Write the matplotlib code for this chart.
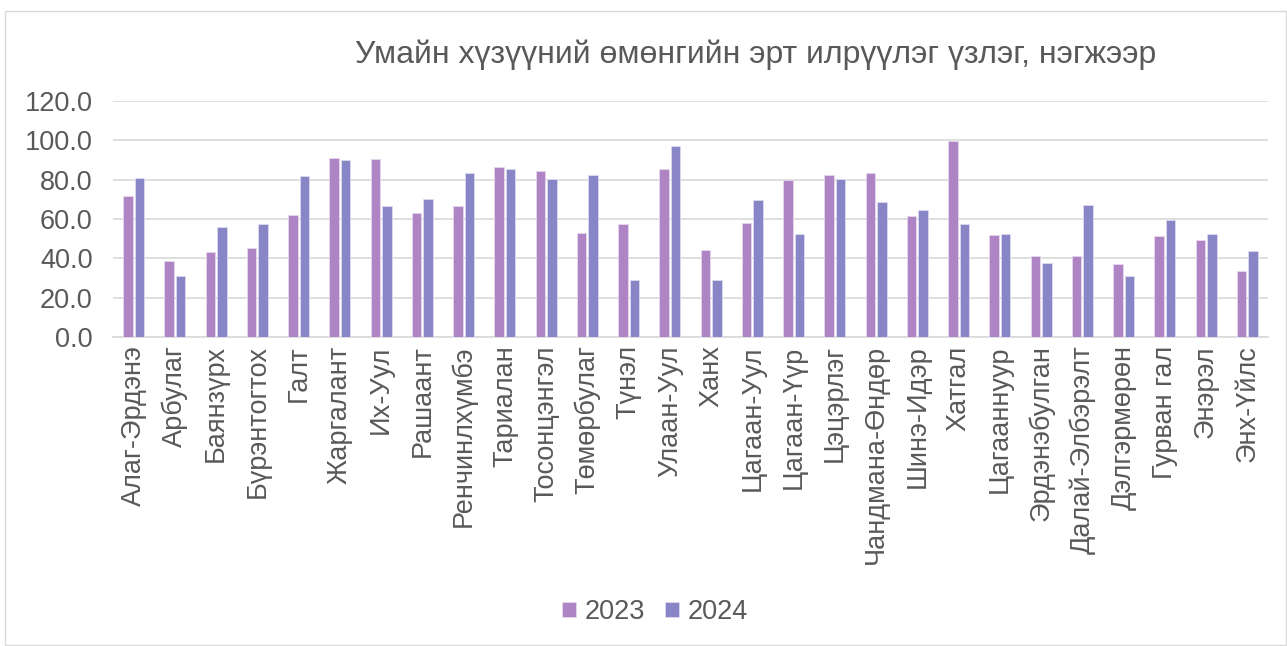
import matplotlib
matplotlib.use("Agg")
import matplotlib.pyplot as plt
import numpy as np
from matplotlib.patches import Rectangle

plt.rcParams['font.family'] = ['Liberation Sans', 'DejaVu Sans']

categories = ["Алаг-Эрдэнэ", "Арбулаг", "Баянзүрх", "Бүрэнтогтох", "Галт", "Жаргалант",
              "Их-Уул", "Рашаант", "Ренчинлхүмбэ", "Тариалан", "Тосонцэнгэл", "Төмөрбулаг",
              "Түнэл", "Улаан-Уул", "Ханх", "Цагаан-Уул", "Цагаан-Үүр", "Цэцэрлэг",
              "Чандмана-Өндөр", "Шинэ-Идэр", "Хатгал", "Цагааннуур", "Эрдэнэбулган",
              "Далай-Элбэрэлт", "Дэлгэрмөрөн", "Гурван гал", "Энэрэл", "Энх-Үйлс"]
v2023 = [71.9, 38.4, 43.2, 45.2, 61.9, 91.1, 90.4, 62.9, 66.5, 86.5, 84.5, 52.9,
         57.5, 85.3, 44.2, 57.8, 79.6, 82.3, 83.5, 61.5, 99.8, 51.8, 41.3, 41.1,
         37.1, 51.2, 49.5, 33.8]
v2024 = [81.1, 31.1, 55.9, 57.6, 81.8, 89.9, 66.6, 70.4, 83.3, 85.3, 80.2, 82.4,
         29.2, 97.2, 28.9, 69.7, 52.2, 80.1, 68.8, 64.4, 57.3, 52.4, 37.7, 67.1,
         31.1, 59.7, 52.4, 43.5]
yticks = [0, 20, 40, 60, 80, 100, 120]
title = "Умайн хүзүүний өмөнгийн эрт илрүүлэг үзлэг, нэгжээр"

c23 = "#AE84C4"
c24 = "#8986C8"
txt = "#595959"

fig = plt.figure(figsize=(12.87, 6.46), dpi=100)
fig.patches.append(Rectangle((5/1287, 0.002), 1 - 5/1287 - 0.001, 1 - 11/646 - 0.002,
                             transform=fig.transFigure, fill=False, edgecolor="#D9D9D9", lw=1))
ax = fig.add_axes([113/1287, 1 - 337/646, (1268 - 113)/1287, (337 - 101)/646])

x = np.arange(len(categories))
w = 0.235
ax.bar(x - 0.14, v2023, w, color=c23, edgecolor="#E6D8EE", linewidth=0.6, label="2023", zorder=3)
ax.bar(x + 0.14, v2024, w, color=c24, edgecolor="#DCDBF0", linewidth=0.6, label="2024", zorder=3)

ax.set_xlim(-0.5, len(categories) - 0.5)
ax.set_ylim(0, 120)
ax.set_yticks(yticks)
ax.set_yticklabels([f"{t:.1f}" for t in yticks], fontsize=19.5, color=txt)
ax.set_xticks(x)
ax.set_xticklabels(categories, rotation=90, fontsize=19.5, color=txt)
ax.tick_params(axis='x', length=0, pad=6)
ax.tick_params(axis='y', length=0, pad=14.5)
ax.grid(axis='y', color="#D9D9D9", lw=1.2, zorder=0)
for s in ["top", "right", "left"]:
    ax.spines[s].set_visible(False)
ax.spines["bottom"].set_color("#D9D9D9")
ax.spines["bottom"].set_linewidth(1.2)

fig.text(756/1287, 1 - 55/646, title, ha="center", va="center", fontsize=23, color=txt)

leg = fig.legend(loc="center", bbox_to_anchor=(655/1287, 1 - 612/646), ncol=2, frameon=False,
                 fontsize=19.5, handlelength=0.52, handleheight=0.52, handletextpad=0.3,
                 columnspacing=0.75, labelcolor=txt)

fig.savefig("out.png", dpi=100)
